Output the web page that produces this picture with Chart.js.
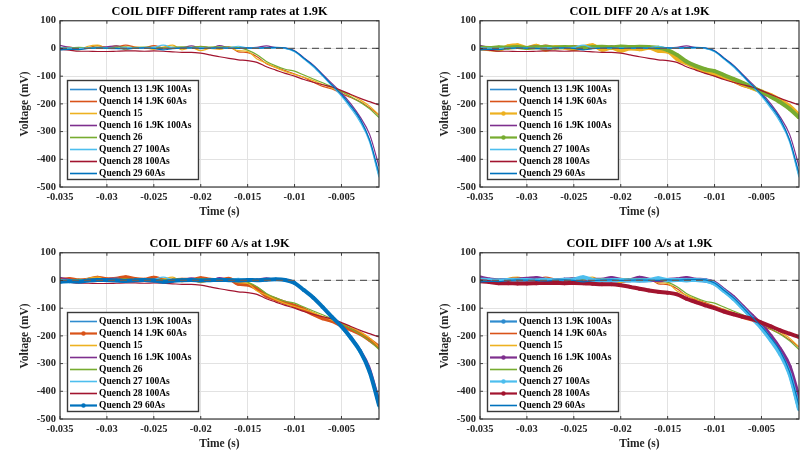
<!DOCTYPE html>
<html><head><meta charset="utf-8">
<script src="https://cdn.jsdelivr.net/npm/chart.js@4.4.0/dist/chart.umd.min.js"></script>
<style>
html,body{margin:0;padding:0;background:#fff;width:807px;height:452px;overflow:hidden;position:relative}
canvas{position:absolute}
</style></head><body>
<canvas id="c1" width="400" height="222" style="left:0;top:0"></canvas>
<canvas id="c2" width="400" height="222" style="left:420px;top:0"></canvas>
<canvas id="c3" width="400" height="222" style="left:0;top:232px"></canvas>
<canvas id="c4" width="400" height="222" style="left:420px;top:232px"></canvas>
<script>
// ---- data ----
const time = [-0.035,-0.034,-0.033,-0.032,-0.031,-0.030,-0.029,-0.028,-0.027,-0.026,
              -0.025,-0.024,-0.023,-0.022,-0.021,-0.020,-0.019,-0.018,-0.017,-0.016,
              -0.015,-0.014,-0.013,-0.012,-0.011,-0.010,-0.009,-0.008,-0.007,-0.006,
              -0.005,-0.004,-0.003,-0.002,-0.001];
const seriesNames = ['Quench 13 1.9K 100As','Quench 14 1.9K 60As','Quench 15','Quench 16 1.9K 100As',
                     'Quench 26','Quench 27 100As','Quench 28 100As','Quench 29 60As'];
const q13 = [2,0,-2,1,3,0,-1,2,0,3,1,-1,2,0,1,-1,2,0,1,3, 0,2,1,2,0, -10,-36,-63,-97,-133,-168,-210,-260,-332,-460];
const q14 = [2,5,0,3,10,4,6,12,5,3,10,2,0,3,2,8,3,2,6,-12, -15,-30,-55,-68,-80, -92,-105,-122,-137,-146,-163,-177,-192,-214,-240];
const q15 = [0,-3,-5,8,12,2,10,-5,5,3,-3,5,12,-5,3,-8,0,-3,3,-8, -11,-38,-53,-69,-83, -94,-104,-116,-130,-143,-155,-168,-186,-208,-240];
const q16 = [11,4,1,2,3,6,9,2,0,3,4,1,2,3,9,2,1,10,3,1, 2,4,9,3,1, -8,-34,-60,-94,-127,-160,-200,-248,-310,-425];
const q26 = [3,2,4,3,5,2,4,6,3,5,4,2,5,6,4,7,5,6,5,3, -6,-23,-47,-63,-75, -82,-96,-110,-124,-139,-156,-174,-194,-218,-249];
const q27 = [3,1,0,2,1,2,0,3,1,2,4,12,2,0,1,2,0,1,2,8, 2,2,1,2,0, -12,-38,-66,-100,-136,-172,-216,-266,-338,-465];
const q28 = [-3,-6,-10,-10,-11,-11,-10,-9,-9,-10,-9,-10,-12,-14,-14,-17,-23,-30,-36,-41, -44,-50,-66,-78,-90, -100,-112,-122,-131,-139,-152,-166,-180,-192,-204];
const q29 = [-5,-3,-4,0,2,1,0,-2,1,2,0,-5,-1,1,2,0,1,2,1,0, 2,1,3,4,2, -9,-35,-62,-96,-132,-166,-207,-255,-330,-450];
const series = [q13,q14,q15,q16,q26,q27,q28,q29];
const xTickVals = [-0.035,-0.03,-0.025,-0.02,-0.015,-0.01,-0.005];
const xTickLabels = ['-0.035','-0.03','-0.025','-0.02','-0.015','-0.01','-0.005'];
const yTickVals = [-500,-400,-300,-200,-100,0,100];
const yTickLabels = ['-500','-400','-300','-200','-100','0','100'];
const titles = ['COIL DIFF Different ramp rates at 1.9K','COIL DIFF 20 A/s at 1.9K','COIL DIFF 60 A/s at 1.9K','COIL DIFF 100 A/s at 1.9K'];
const highlights = [[],[2,4],[1,7],[0,3,5,6]];

// ---- styles ----
const colors = ['#2f8ccf','#D95319','#EDB120','#7E2F8E','#77AC30','#4DBEEE','#A2142F','#0072BD'];
const F = '"Liberation Serif", "Times New Roman", serif';

const boxPlugin = {
  id:'axBox',
  afterDatasetsDraw(chart){
    const {ctx, chartArea:a} = chart;
    ctx.save();
    ctx.strokeStyle = '#3a3a3a'; ctx.lineWidth = 1.2;
    ctx.strokeRect(a.left, a.top, a.right-a.left, a.bottom-a.top);
    ctx.lineWidth = 1;
    const xs = chart.scales.x, ys = chart.scales.y;
    xTickVals.forEach(v=>{const p=xs.getPixelForValue(v);
      ctx.beginPath(); ctx.moveTo(p,a.bottom); ctx.lineTo(p,a.bottom-3); ctx.moveTo(p,a.top); ctx.lineTo(p,a.top+3); ctx.stroke();});
    yTickVals.forEach(v=>{const p=ys.getPixelForValue(v);
      ctx.beginPath(); ctx.moveTo(a.left,p); ctx.lineTo(a.left+3,p); ctx.moveTo(a.right,p); ctx.lineTo(a.right-3,p); ctx.stroke();});
    ctx.restore();
  }
};
const legendPlugin = {
  id:'boxLegend',
  afterDraw(chart){
    const {ctx, chartArea:a} = chart;
    const x = Math.round(a.left)+7, y = Math.round(a.top)+59, w = 131, h = 99;
    ctx.save();
    ctx.fillStyle = '#fff'; ctx.fillRect(x,y,w,h);
    ctx.strokeStyle = '#3a3a3a'; ctx.lineWidth = 1.4; ctx.strokeRect(x+0.5,y+0.5,w,h);
    ctx.font = 'bold 9.5px ' + F; ctx.textBaseline = 'middle'; ctx.textAlign = 'left';
    let row = 0;
    chart.data.datasets.forEach(ds=>{
      if (ds.skipLegend) return;
      const cy = y + 9.5 + row*12;
      ctx.strokeStyle = ds.borderColor; ctx.lineWidth = ds.hl ? 2.2 : 1.6;
      ctx.beginPath(); ctx.moveTo(x+3,cy); ctx.lineTo(x+30,cy); ctx.stroke();
      if (ds.hl){ ctx.fillStyle = ds.borderColor; ctx.beginPath(); ctx.arc(x+16.5,cy,2.2,0,Math.PI*2); ctx.fill(); }
      ctx.fillStyle = '#000'; ctx.fillText(ds.label, x+32, cy+0.5);
      row++;
    });
    ctx.restore();
  }
};

function makeChart(id, title, hl){
  const ds = seriesNames.map((n,i)=>{
    const h = hl.includes(i);
    return {label:n, data: time.map((t,k)=>({x:t, y:series[i][k]})),
      borderColor: colors[i], backgroundColor: colors[i], borderWidth: h?4:1.2,
      pointRadius: h?1.9:0, pointBorderWidth:0, pointHoverRadius:0,
      cubicInterpolationMode:'monotone', order:-i, hl:h};
  });
  ds.push({label:'zero', data:[{x:-0.035,y:0},{x:-0.001,y:0}], borderColor:'#606060', borderDash:[7,5],
    borderWidth:1.3, pointRadius:0, order:-100, skipLegend:true});
  new Chart(document.getElementById(id), {
    type:'line',
    data:{datasets:ds},
    plugins:[boxPlugin, legendPlugin],
    options:{
      responsive:false, animation:false, events:[],
      layout:{padding:{left:0,right:21,top:0,bottom:0}},
      plugins:{legend:{display:false}, tooltip:{enabled:false},
        title:{display:true, fullSize:false, text:title, color:'#000', font:{family:F, size:12.3, weight:'bold'}, padding:{top:4,bottom:2}}},
      scales:{
        x:{type:'linear', min:-0.035, max:-0.001,
          afterBuildTicks: s=>{ s.ticks = xTickVals.map(v=>({value:v})); },
          afterFit: s=>{ s.height = 35; },
          ticks:{callback:(v)=>{const k=xTickVals.findIndex(u=>Math.abs(u-v)<1e-9); return k>=0?xTickLabels[k]:'';},
            color:'#262626', font:{family:F,size:10.5,weight:'bold'}, padding:4, maxRotation:0, autoSkip:false},
          grid:{color:'#e2e2e2', drawTicks:false}, border:{display:false},
          title:{display:true, text:'Time (s)', color:'#262626', font:{family:F,size:11.5,weight:'bold'}, padding:{top:0,bottom:3}}},
        y:{type:'linear', min:-500, max:100,
          afterBuildTicks: s=>{ s.ticks = yTickVals.map(v=>({value:v})); },
          afterFit: s=>{ s.width = 60; },
          ticks:{callback:(v)=>{const k=yTickVals.indexOf(v); return k>=0?yTickLabels[k]:'';},
            color:'#262626', font:{family:F,size:10.5,weight:'bold'}, padding:4, autoSkip:false},
          grid:{color:'#e2e2e2', drawTicks:false}, border:{display:false},
          title:{display:true, text:'Voltage (mV)', color:'#262626', font:{family:F,size:11.5,weight:'bold'}, padding:{top:18,bottom:0}}}
      }
    }
  });
}
['c1','c2','c3','c4'].forEach((id,i)=>makeChart(id, titles[i], highlights[i]));
</script>
</body></html>
